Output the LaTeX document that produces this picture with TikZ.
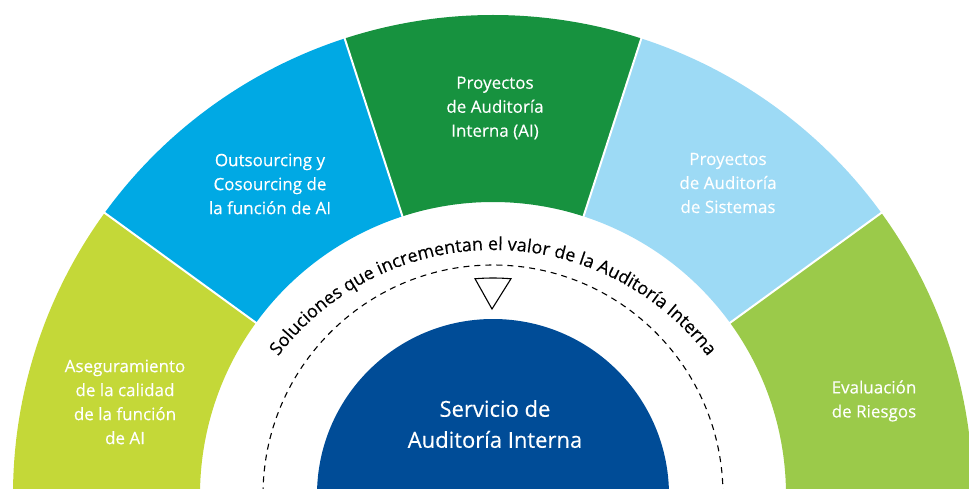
\documentclass[tikz,border=0pt]{standalone}
\usepackage{fontspec}
\setmainfont{Open Sans}[FakeBold=0.3]
\usepackage{tikz}
\usetikzlibrary{decorations.text}
\definecolor{lima}{HTML}{C4D838}
\definecolor{azul}{HTML}{00A9E4}
\definecolor{verde}{HTML}{17923F}
\definecolor{celeste}{HTML}{9DDAF5}
\definecolor{pasto}{HTML}{9BCA4A}
\definecolor{marino}{HTML}{004C97}
\tikzset{seclabel/.style={text=white, align=center, font=\fontsize{17}{24}\selectfont},
  gap/.style={white, line width=2}}

\begin{document}
\begin{tikzpicture}[x=1pt,y=1pt]
\useasboundingbox (-493,7) rectangle (476,495);
\clip (-493,7) rectangle (476,495);

% ring of five sectors
\fill[pasto] (0:293) arc[start angle=0,end angle=36,radius=293] -- (36:480) arc[start angle=36,end angle=0,radius=480] -- cycle;
\fill[celeste] (36:293) arc[start angle=36,end angle=72,radius=293] -- (72:480) arc[start angle=72,end angle=36,radius=480] -- cycle;
\fill[verde] (72:293) arc[start angle=72,end angle=108,radius=293] -- (108:480) arc[start angle=108,end angle=72,radius=480] -- cycle;
\fill[azul] (108:293) arc[start angle=108,end angle=144,radius=293] -- (144:480) arc[start angle=144,end angle=108,radius=480] -- cycle;
\fill[lima] (144:293) arc[start angle=144,end angle=180,radius=293] -- (180:480) arc[start angle=180,end angle=144,radius=480] -- cycle;
\draw[gap] (36:285) -- (36:490);
\draw[gap] (72:285) -- (72:490);
\draw[gap] (108:285) -- (108:490);
\draw[gap] (144:285) -- (144:490);

\node[seclabel] (riesgos) at (381,94) {Evaluación\\de Riesgos};
\node[seclabel] (sistemas) at (235,312) {Proyectos\\de Auditoría\\de Sistemas};
\node[seclabel] (proyectos) at (2,387) {Proyectos\\de Auditoría\\Interna (AI)};
\node[seclabel] (outsourcing) at (-223,311) {Outsourcing y\\Cosourcing de\\la función de AI};
\node[seclabel] (calidad) at (-368,93) {Aseguramiento\\de la calidad\\de la función\\de AI};

% inner part
\draw[dashed, dash pattern=on 6 off 5, line width=1.1] (0,0) circle[radius=230];
\draw[line width=1.1, line join=miter] (94.75:217) arc[start angle=94.75,end angle=85.25,radius=217] -- (-1,186) -- cycle;
\path[decorate, decoration={text along path, text align=center,
  text={|\fontsize{18}{18}\selectfont|Soluciones que incrementan el valor de la Auditoría Interna}}]
  (0,-25) ++(150:270) arc[start angle=150,end angle=30,radius=270];

\fill[marino] (0,0) circle[radius=176];
\node[text=white, align=center, font=\fontsize{22}{31}\selectfont] (servicio) at (2,71) {Servicio de\\Auditoría Interna};
\end{tikzpicture}
\end{document}
